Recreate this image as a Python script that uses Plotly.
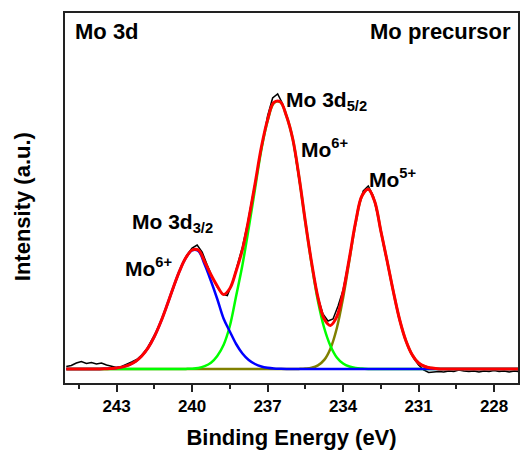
import plotly.graph_objects as go

# Binding energy grid of the fitted components (eV)
energy_fit = [245.00, 244.75, 244.50, 244.25, 244.00, 243.75, 243.50, 243.25, 243.00, 242.75,
              242.50, 242.25, 242.00, 241.75, 241.50, 241.25, 241.00, 240.75, 240.50, 240.25,
              240.00, 239.75, 239.50, 239.25, 239.00, 238.75, 238.50, 238.25, 238.00, 237.75,
              237.50, 237.25, 237.00, 236.75, 236.50, 236.25, 236.00, 235.75, 235.50, 235.25,
              235.00, 234.75, 234.50, 234.25, 234.00, 233.75, 233.50, 233.25, 233.00, 232.75,
              232.50, 232.25, 232.00, 231.75, 231.50, 231.25, 231.00, 230.75, 230.50, 230.25,
              230.00, 229.75, 229.50, 229.25, 229.00, 228.75, 228.50, 228.25, 228.00, 227.75,
              227.50, 227.25, 227.00]

# Mo 3d3/2 (Mo6+) component
mo6_3d32 = [0, 0, 0, 0, 0.05, 0.1, 0.2, 0.5, 1.0, 2.1,
            4.1, 7.5, 13.0, 21.1, 32.4, 46.7, 63.5, 81.3, 97.9, 111.1,
            118.7, 118.0, 104.5, 88.0, 70.0, 50.5, 37.5, 25.0, 15.5, 9.0,
            5.0, 2.5, 1.2, 0.5, 0.2, 0, 0, 0, 0, 0,
            0, 0, 0, 0, 0, 0, 0, 0, 0, 0,
            0, 0, 0, 0, 0, 0, 0, 0, 0, 0,
            0, 0, 0, 0, 0, 0, 0, 0, 0, 0,
            0, 0, 0]

# Mo 3d5/2 (Mo6+) component
mo6_3d52 = [0, 0, 0, 0, 0, 0, 0, 0, 0, 0,
            0, 0, 0, 0, 0, 0, 0, 0, 0, 0.1,
            0.3, 1.0, 2.8, 6.2, 13.0, 24.0, 43.0, 73.0, 104.0, 141.0,
            180.0, 219.0, 248.0, 266.0, 267.0, 253.0, 230.0, 192.0, 147.0, 105.0,
            68.0, 41.0, 23.0, 11.5, 5.5, 2.5, 1.0, 0.4, 0.1, 0,
            0, 0, 0, 0, 0, 0, 0, 0, 0, 0,
            0, 0, 0, 0, 0, 0, 0, 0, 0, 0,
            0, 0, 0]

# Mo5+ component
mo5 = [0, 0, 0, 0, 0, 0, 0, 0, 0, 0,
       0, 0, 0, 0, 0, 0, 0, 0, 0, 0,
       0, 0, 0, 0, 0, 0, 0, 0, 0, 0,
       0, 0, 0, 0, 0, 0, 0, 0.1, 0.4, 1.2,
       3.6, 9.1, 20.6, 40.8, 71.1, 108.5, 146.2, 172.8, 179.7, 167.9,
       138.0, 108.0, 77.0, 49.0, 28.0, 14.0, 6.0, 2.5, 1.0, 0.3,
       0, 0, 0, 0, 0, 0, 0, 0, 0, 0,
       0, 0, 0]

# Cumulative fit envelope
envelope = [0, 0, 0, 0, 0, 0.1, 0.2, 0.5, 1.0, 2.1,
            4.1, 7.5, 13.0, 21.1, 32.4, 46.7, 63.5, 81.3, 97.9, 111.2,
            119.0, 119.0, 107.3, 94.2, 83.0, 74.5, 80.5, 98.0, 119.5, 150.0,
            185.0, 221.5, 249.2, 266.5, 267.2, 253.0, 230.0, 192.1, 147.4, 106.2,
            71.6, 50.1, 43.6, 52.3, 76.6, 111.0, 147.2, 173.2, 179.8, 167.9,
            138.0, 108.0, 77.0, 49.0, 28.0, 14.0, 6.0, 2.5, 1.0, 0.3,
            0, 0, 0, 0, 0, 0, 0, 0, 0, 0,
            0, 0, 0]

# Measured spectrum
energy_raw = [245.0, 244.8, 244.6, 244.4, 244.2, 244.0, 243.8, 243.6, 243.4, 243.2,
              243.0, 242.8, 242.6, 242.4, 242.2, 242.0, 241.8, 241.6, 241.4, 241.2,
              241.0, 240.8, 240.6, 240.4, 240.2, 240.0, 239.8, 239.6, 239.4, 239.2,
              239.0, 238.8, 238.6, 238.4, 238.2, 238.0, 237.8, 237.6, 237.4, 237.2,
              237.0, 236.8, 236.6, 236.4, 236.2, 236.0, 235.8, 235.6, 235.4, 235.2,
              235.0, 234.8, 234.6, 234.4, 234.2, 234.0, 233.8, 233.6, 233.4, 233.2,
              233.0, 232.8, 232.6, 232.4, 232.2, 232.0, 231.8, 231.6, 231.4, 231.2,
              231.0, 230.8, 230.6, 230.4, 230.2, 230.0, 229.8, 229.6, 229.4, 229.2,
              229.0, 228.8, 228.6, 228.4, 228.2, 228.0, 227.8, 227.6, 227.4, 227.2,
              227.0]
intensity_raw = [2.5, 3.5, 6.0, 7.5, 5.5, 6.5, 5.0, 6.0, 4.0, 2.5,
                 1.5, 2.5, 4.5, 7.0, 9.5, 14.0, 20.0, 29.0, 38.5, 50.0,
                 64.0, 78.5, 92.0, 104.5, 114.0, 121.0, 124.0, 117.0, 104.0, 92.0,
                 82.0, 75.0, 73.5, 86.0, 104.0, 122.0, 145.0, 172.0, 201.0, 230.0,
                 253.0, 271.0, 275.0, 265.0, 250.0, 230.0, 199.0, 165.0, 131.0, 99.0,
                 72.0, 55.0, 48.0, 50.0, 63.0, 79.0, 105.0, 134.0, 161.0, 178.0,
                 183.0, 173.0, 151.0, 125.0, 101.0, 76.0, 53.0, 35.0, 21.0, 11.0,
                 4.0, -1.0, -3.5, -3.0, -2.5, -3.0, -2.0, -2.5, -1.0, -2.0,
                 -2.5, -2.0, -3.0, -2.0, -2.5, -1.5, -2.5, -2.0, -3.0, -2.0,
                 -2.5]

major_ticks = [243, 240, 237, 234, 231, 228]
minor_ticks = [244.5, 241.5, 238.5, 235.5, 232.5, 229.5]

FONT = "Liberation Sans, Arial, sans-serif"

fig = go.Figure()
fig.add_trace(go.Scatter(x=energy_raw, y=intensity_raw, mode="lines",
                         line=dict(color="black", width=1.5)))
fig.add_trace(go.Scatter(x=energy_fit, y=mo5, mode="lines",
                         line=dict(color="#808000", width=2.5, shape="spline")))
fig.add_trace(go.Scatter(x=energy_fit, y=mo6_3d52, mode="lines",
                         line=dict(color="#00ff00", width=2.5, shape="spline")))
fig.add_trace(go.Scatter(x=energy_fit, y=mo6_3d32, mode="lines",
                         line=dict(color="#0000ff", width=2.5, shape="spline")))
fig.add_trace(go.Scatter(x=energy_fit, y=envelope, mode="lines",
                         line=dict(color="#ff0000", width=3, shape="spline")))

bold = dict(family=FONT, size=21, color="black", weight="bold")

def label(text, x, y, anchor="left", size=21):
    fig.add_annotation(text=text, x=x, y=y, xref="x", yref="y",
                       xanchor=anchor, yanchor="middle", showarrow=False,
                       font=dict(family=FONT, size=size, color="black", weight="bold"))

label("Mo 3d", 244.73, 338, size=22)
label("Mo precursor", 227.26, 338, anchor="right", size=22)
label("Mo 3d<sub>5/2</sub>", 236.35, 268)
label("Mo<sup>6+</sup>", 235.76, 221)
label("Mo<sup>5+</sup>", 233.07, 191)
label("Mo 3d<sub>3/2</sub>", 242.48, 146)
label("Mo<sup>6+</sup>", 242.76, 102)

fig.add_annotation(text="Intensity (a.u.)", xref="paper", yref="paper",
                   x=-0.092, y=0.476, xanchor="center", yanchor="middle",
                   textangle=-90, showarrow=False,
                   font=dict(family=FONT, size=22, color="black", weight="bold"))

fig.update_layout(
    width=521, height=450,
    margin=dict(l=65, r=1, t=13, b=67),
    paper_bgcolor="white", plot_bgcolor="white",
    showlegend=False,
    xaxis=dict(
        range=[245.05, 227.05], tickvals=major_ticks, ticktext=[str(t) for t in major_ticks],
        ticks="outside", ticklen=7, tickwidth=1.5, tickcolor="#222",
        minor=dict(tickvals=minor_ticks, ticks="outside", ticklen=4, tickwidth=1.5, tickcolor="#222"),
        showline=True, linecolor="#222", linewidth=1.5, mirror=True,
        showgrid=False, zeroline=False,
        tickfont=dict(family=FONT, size=17, color="black", weight="bold"),
        title=dict(text="Binding Energy (eV)", standoff=14,
                   font=dict(family=FONT, size=22, color="black", weight="bold")),
    ),
    yaxis=dict(
        range=[-14, 356], showticklabels=False, ticks="",
        showline=True, linecolor="#222", linewidth=1.5, mirror=True,
        showgrid=False, zeroline=False,
    ),
)

fig.write_html("out.html")
